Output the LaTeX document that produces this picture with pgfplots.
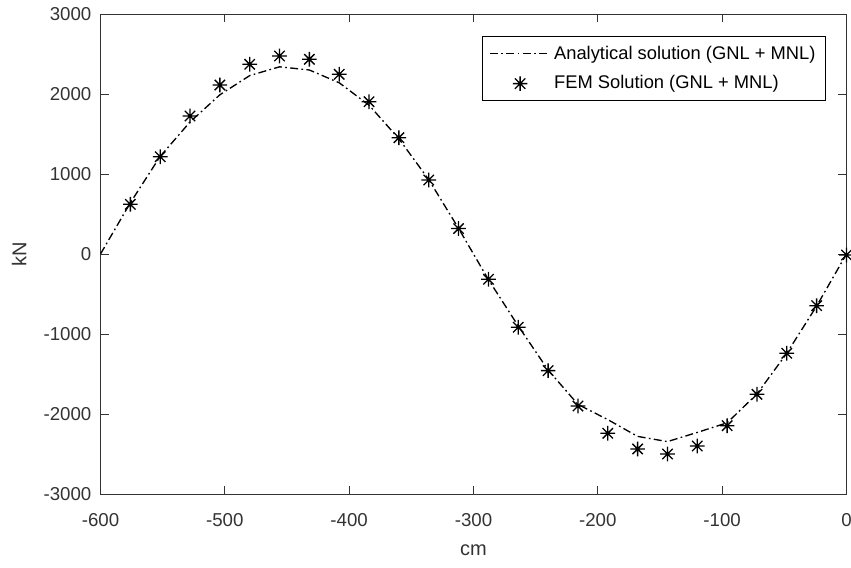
\documentclass[border=0pt]{standalone}
\usepackage{fontspec}
\setmainfont{Liberation Sans}
\usepackage{pgfplots}
\pgfplotsset{compat=1.18}
\definecolor{axgray}{HTML}{333333}

% MATLAB-like asterisk: + and x together
\pgfdeclareplotmark{star8}{%
  \pgfpathmoveto{\pgfpoint{0pt}{\pgfplotmarksize}}%
  \pgfpathlineto{\pgfpoint{0pt}{-\pgfplotmarksize}}%
  \pgfpathmoveto{\pgfpoint{\pgfplotmarksize}{0pt}}%
  \pgfpathlineto{\pgfpoint{-\pgfplotmarksize}{0pt}}%
  \pgfpathmoveto{\pgfpoint{0.7071\pgfplotmarksize}{0.7071\pgfplotmarksize}}%
  \pgfpathlineto{\pgfpoint{-0.7071\pgfplotmarksize}{-0.7071\pgfplotmarksize}}%
  \pgfpathmoveto{\pgfpoint{-0.7071\pgfplotmarksize}{0.7071\pgfplotmarksize}}%
  \pgfpathlineto{\pgfpoint{0.7071\pgfplotmarksize}{-0.7071\pgfplotmarksize}}%
  \pgfusepathqstroke}

\pgfplotsset{
  linelegend/.style={legend image code/.code={\draw[##1] (0pt,0pt) -- (36pt,0pt);}},
  marklegend/.style={legend image code/.code={\draw[##1] plot coordinates {(18pt,0pt)};}},
}

\begin{document}
\begin{tikzpicture}
\begin{axis}[
  scale only axis,
  width=447.6pt, height=288pt,
  xmin=-600, xmax=0, ymin=-3000, ymax=3000,
  xtick={-600,-500,...,0},
  ytick={-3000,-2000,...,3000},
  tick align=inside,
  major tick length=5pt,
  axis line style={draw=axgray, line width=0.6pt},
  tick style={draw=axgray, line width=0.6pt},
  every tick label/.append style={font=\fontsize{11.2}{13}\selectfont, text=axgray},
  /pgf/number format/assume math mode=true,
  /pgf/number format/1000 sep={},
  xticklabel style={anchor=center, yshift=-15.9pt},
  yticklabel style={xshift=-2pt},
  xlabel={cm}, ylabel={kN},
  label style={font=\fontsize{12}{14}\selectfont, text=axgray},
  xlabel style={at={(axis description cs:0.5,-0.118)}, anchor=center},
  ylabel style={at={(axis description cs:-0.109,0.5)}, anchor=center},
  legend style={at={(0.9725,0.954)}, anchor=north east, draw=black,
    line width=0.6pt, fill=white, font=\fontsize{11}{13}\selectfont,
    inner xsep=4pt, inner ysep=3.5pt, row sep=4.5pt,
    cells={anchor=west}},
  legend cell align=left,
]
\addplot[black, line width=0.8pt, dash pattern=on 4.8pt off 2pt on 1pt off 2pt, linelegend]
coordinates {
(-600,0) (-576,640) (-552,1220) (-528,1650) (-504,1990) (-480,2230)
(-456,2340) (-432,2300) (-408,2140) (-384,1860) (-360,1440) (-336,930)
(-312,320) (-288,-320) (-264,-900) (-240,-1450) (-216,-1880) (-192,-2070)
(-168,-2280) (-144,-2345) (-120,-2230) (-96,-2110) (-72,-1750) (-48,-1240)
(-24,-650) (0,0)
};
\addlegendentry{Analytical solution (GNL + MNL)}
\addplot[black, only marks, mark=star8, mark size=4.4pt, line width=0.8pt, marklegend]
coordinates {
(-576,621) (-552,1216) (-528,1725) (-504,2112) (-480,2371) (-456,2475)
(-432,2434) (-408,2246) (-384,1904) (-360,1454) (-336,925) (-312,318)
(-288,-316) (-264,-916) (-240,-1458) (-216,-1900) (-192,-2241) (-168,-2437)
(-144,-2500) (-120,-2400) (-96,-2146) (-72,-1754) (-48,-1241) (-24,-646)
(0,-12)
};
\addlegendentry{FEM Solution (GNL + MNL)}
\end{axis}
\pgfresetboundingbox
\useasboundingbox (-60.3pt,-43.8pt) rectangle (450.3pt,296.4pt);
\end{tikzpicture}
\end{document}
